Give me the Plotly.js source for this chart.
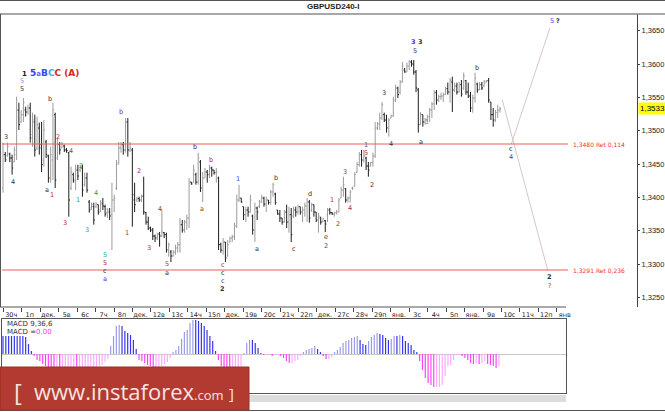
<!DOCTYPE html>
<html>
<head>
<meta charset="utf-8">
<script src="https://cdn.plot.ly/plotly-3.0.1.min.js"></script>
<style>
html, body { margin: 0; padding: 0; background: #ffffff; }
#grafico { width: 665px; height: 412px; }
</style>
</head>
<body>
<div id="grafico"></div>
<script>
"use strict";

// GBPUSD H4 bars (high / low / open / close)
const hi = [1.3482,1.3468,1.3482,1.3467,1.3464,1.3476,1.3551,1.3542,1.3531,1.3549,
 1.3536,1.3539,1.3542,1.3527,1.3524,1.3521,1.3512,1.3513,1.3516,1.3486,
 1.3464,1.3476,1.3542,1.3527,1.3489,1.3483,1.3483,1.3479,1.3474,1.3468,
 1.3446,1.3437,1.3449,1.3449,1.3449,1.3449,1.3437,1.3437,1.3396,1.3392,
 1.3392,1.3393,1.3389,1.3396,1.3399,1.3389,1.3384,1.3384,1.3422,1.3404,
 1.3456,1.3483,1.3483,1.3483,1.3519,1.3519,1.3483,1.3474,1.3422,1.3401,
 1.3401,1.3404,1.3431,1.3378,1.3371,1.3356,1.3354,1.3344,1.3347,1.3348,
 1.3381,1.3348,1.3347,1.3332,1.3321,1.3321,1.3329,1.3333,1.3369,1.3366,
 1.3366,1.3374,1.3429,1.3423,1.3449,1.3437,1.3467,1.3456,1.3438,1.3444,
 1.3441,1.3449,1.3446,1.3441,1.3444,1.3431,1.3332,1.3339,1.3333,1.3336,
 1.3341,1.3344,1.3362,1.3404,1.3419,1.3399,1.3386,1.3386,1.3386,1.3404,
 1.3374,1.3392,1.3386,1.3396,1.3404,1.3401,1.3401,1.3396,1.3411,1.3422,
 1.3407,1.3381,1.3381,1.3369,1.3381,1.3389,1.3386,1.3384,1.3386,1.3386,
 1.3389,1.3386,1.3386,1.3392,1.3399,1.3396,1.3392,1.3389,1.3378,1.3377,
 1.3371,1.3369,1.3366,1.3384,1.3384,1.3378,1.3378,1.3381,1.3399,1.3416,
 1.3431,1.3414,1.3401,1.3411,1.3416,1.3438,1.3453,1.3468,1.3471,1.3471,
 1.3461,1.3453,1.3453,1.3467,1.3513,1.3513,1.3527,1.3543,1.3527,1.3524,
 1.3519,1.3524,1.3551,1.3569,1.3566,1.3576,1.3603,1.3594,1.3602,1.3606,
 1.3606,1.3606,1.3591,1.3564,1.3528,1.3524,1.3519,1.3524,1.3534,1.3543,
 1.3561,1.3561,1.3554,1.3557,1.3557,1.3566,1.3572,1.3579,1.3581,1.3572,
 1.3572,1.3573,1.3576,1.3587,1.3576,1.3572,1.3558,1.3554,1.3587,1.3572,
 1.3573,1.3573,1.3576,1.3576,1.3579,1.3543,1.3534,1.3531,1.3539,1.3536];

const lo = [1.3407,1.3453,1.3461,1.3453,1.3434,1.3453,1.3456,1.3501,1.3512,1.3513,
 1.3521,1.3524,1.3482,1.3476,1.3461,1.3471,1.3464,1.3438,1.3446,1.3459,
 1.3422,1.3422,1.3426,1.3414,1.3456,1.3464,1.3474,1.3468,1.3467,1.3371,
 1.3411,1.3422,1.3411,1.3426,1.3438,1.3401,1.3416,1.3407,1.3377,1.3381,
 1.3359,1.3384,1.3374,1.3378,1.3381,1.3371,1.3369,1.3366,1.3321,1.3378,
 1.3411,1.3449,1.3467,1.3464,1.3467,1.3461,1.3468,1.3356,1.3378,1.3393,
 1.3393,1.3393,1.3374,1.3359,1.3351,1.3348,1.3336,1.3333,1.3336,1.3326,
 1.3341,1.3339,1.3317,1.3311,1.3303,1.3311,1.3314,1.3317,1.3317,1.3347,
 1.3347,1.3351,1.3354,1.3419,1.3422,1.3419,1.3419,1.3408,1.3393,1.3429,
 1.3422,1.3429,1.3431,1.3434,1.3422,1.3321,1.3317,1.3314,1.3303,1.3311,
 1.3333,1.3333,1.3336,1.3354,1.3393,1.3392,1.3366,1.3363,1.3371,1.3377,
 1.3344,1.3333,1.3366,1.3384,1.3392,1.3386,1.3378,1.3389,1.3389,1.3401,
 1.3389,1.3374,1.3363,1.3359,1.3362,1.3354,1.3347,1.3333,1.3369,1.3371,
 1.3374,1.3374,1.3363,1.3371,1.3363,1.3362,1.3378,1.3371,1.3363,1.3347,
 1.3359,1.3363,1.3348,1.3363,1.3374,1.3374,1.3371,1.3374,1.3378,1.3399,
 1.3401,1.3392,1.3392,1.3392,1.3411,1.3416,1.3437,1.3446,1.3446,1.3452,
 1.3441,1.3431,1.3446,1.3446,1.3459,1.3501,1.3501,1.3516,1.3513,1.3497,
 1.3491,1.3519,1.3521,1.3543,1.3549,1.3554,1.3572,1.3587,1.3588,1.3591,
 1.3596,1.3584,1.3558,1.3497,1.3509,1.3506,1.3509,1.3513,1.3513,1.3519,
 1.3531,1.3539,1.3543,1.3546,1.3543,1.3554,1.3554,1.3542,1.3528,1.3558,
 1.3554,1.3557,1.3551,1.3561,1.3554,1.3549,1.3528,1.3527,1.3542,1.3557,
 1.3561,1.3561,1.3566,1.3572,1.3542,1.3516,1.3506,1.3513,1.3519,1.3527];

const op = [1.3414,1.3464,1.3462,1.3465,1.3459,1.3453,1.3464,1.3531,1.3513,1.3524,
 1.3531,1.3528,1.3534,1.3494,1.3513,1.3474,1.3504,1.3479,1.3456,1.3483,
 1.3462,1.3429,1.3456,1.3524,1.3459,1.3479,1.3474,1.3477,1.3471,1.3467,
 1.3414,1.3434,1.3423,1.3441,1.3441,1.3444,1.3419,1.3429,1.3393,1.3384,
 1.3386,1.3386,1.3389,1.3381,1.3390,1.3386,1.3377,1.3378,1.3374,1.3396,
 1.3414,1.3452,1.3474,1.3479,1.3471,1.3513,1.3471,1.3471,1.3396,1.3396,
 1.3398,1.3396,1.3402,1.3377,1.3363,1.3354,1.3351,1.3342,1.3339,1.3345,
 1.3342,1.3347,1.3344,1.3321,1.3318,1.3312,1.3318,1.3324,1.3329,1.3359,
 1.3351,1.3363,1.3369,1.3423,1.3422,1.3434,1.3423,1.3453,1.3414,1.3429,
 1.3438,1.3434,1.3444,1.3441,1.3437,1.3429,1.3329,1.3321,1.3333,1.3312,
 1.3333,1.3339,1.3341,1.3357,1.3396,1.3399,1.3386,1.3374,1.3381,1.3378,
 1.3372,1.3351,1.3384,1.3386,1.3393,1.3399,1.3390,1.3396,1.3392,1.3408,
 1.3405,1.3381,1.3375,1.3369,1.3363,1.3378,1.3363,1.3374,1.3372,1.3381,
 1.3378,1.3386,1.3378,1.3381,1.3387,1.3393,1.3381,1.3389,1.3378,1.3366,
 1.3369,1.3363,1.3365,1.3374,1.3381,1.3377,1.3375,1.3377,1.3378,1.3399,
 1.3411,1.3413,1.3396,1.3399,1.3414,1.3417,1.3438,1.3449,1.3464,1.3456,
 1.3459,1.3447,1.3447,1.3452,1.3462,1.3504,1.3510,1.3519,1.3524,1.3516,
 1.3504,1.3519,1.3522,1.3546,1.3564,1.3558,1.3573,1.3591,1.3588,1.3597,
 1.3603,1.3600,1.3588,1.3561,1.3509,1.3524,1.3513,1.3516,1.3521,1.3531,
 1.3540,1.3557,1.3546,1.3551,1.3552,1.3554,1.3563,1.3558,1.3573,1.3561,
 1.3567,1.3558,1.3569,1.3564,1.3575,1.3558,1.3552,1.3534,1.3549,1.3570,
 1.3561,1.3569,1.3567,1.3573,1.3575,1.3543,1.3524,1.3516,1.3527,1.3531];

const cl = [1.3464,1.3456,1.3476,1.3459,1.3444,1.3471,1.3531,1.3509,1.3524,1.3542,
 1.3528,1.3534,1.3489,1.3516,1.3471,1.3509,1.3474,1.3449,1.3501,1.3464,
 1.3429,1.3464,1.3531,1.3426,1.3479,1.3471,1.3480,1.3471,1.3470,1.3396,
 1.3438,1.3426,1.3441,1.3432,1.3444,1.3411,1.3429,1.3411,1.3381,1.3389,
 1.3366,1.3390,1.3378,1.3392,1.3387,1.3375,1.3381,1.3372,1.3396,1.3399,
 1.3449,1.3474,1.3479,1.3471,1.3513,1.3471,1.3474,1.3404,1.3389,1.3398,
 1.3396,1.3401,1.3378,1.3363,1.3354,1.3351,1.3342,1.3339,1.3345,1.3342,
 1.3348,1.3344,1.3321,1.3329,1.3312,1.3318,1.3324,1.3329,1.3359,1.3351,
 1.3363,1.3369,1.3423,1.3420,1.3441,1.3423,1.3459,1.3414,1.3429,1.3438,
 1.3434,1.3444,1.3441,1.3437,1.3438,1.3329,1.3321,1.3333,1.3309,1.3329,
 1.3339,1.3341,1.3357,1.3396,1.3399,1.3393,1.3374,1.3381,1.3378,1.3396,
 1.3351,1.3384,1.3378,1.3393,1.3399,1.3390,1.3396,1.3392,1.3408,1.3419,
 1.3392,1.3375,1.3369,1.3363,1.3378,1.3363,1.3374,1.3344,1.3381,1.3378,
 1.3386,1.3378,1.3381,1.3387,1.3393,1.3369,1.3389,1.3378,1.3366,1.3372,
 1.3363,1.3368,1.3360,1.3381,1.3377,1.3375,1.3377,1.3378,1.3396,1.3411,
 1.3419,1.3396,1.3399,1.3408,1.3414,1.3434,1.3449,1.3464,1.3456,1.3462,
 1.3447,1.3441,1.3452,1.3462,1.3504,1.3510,1.3519,1.3539,1.3516,1.3504,
 1.3516,1.3522,1.3546,1.3564,1.3554,1.3573,1.3597,1.3588,1.3597,1.3603,
 1.3600,1.3588,1.3564,1.3509,1.3524,1.3513,1.3516,1.3521,1.3531,1.3540,
 1.3557,1.3546,1.3551,1.3552,1.3554,1.3563,1.3558,1.3576,1.3561,1.3567,
 1.3558,1.3569,1.3555,1.3582,1.3558,1.3552,1.3534,1.3549,1.3579,1.3561,
 1.3569,1.3564,1.3573,1.3575,1.3546,1.3524,1.3516,1.3527,1.3531,1.3533];

// MACD(9,36,6) histogram
const macd = [0.0009,0.0009,0.0009,0.0009,0.0009,0.0009,0.0009,0.0009,0.00085,0.0005,0.00015,
 -0.0001,-0.0003,-0.00035,
 -0.0005,-0.0006,-0.00065,-0.0007,-0.00075,-0.00075,-0.0008,-0.0008,-0.0008,-0.0008,-0.00075,
 -0.00075,-0.0008,-0.0008,-0.00075,-0.00075,-0.0007,-0.0007,-0.00065,-0.00065,-0.0006,-0.00055,
 -0.0004,-0.00025,
 0.0004,0.0009,0.0014,0.00145,0.0014,0.00115,0.00105,0.00095,0.0007,0.00025,
 -0.0003,-0.00035,-0.00045,-0.00055,-0.0006,-0.00065,-0.00065,-0.00065,-0.0006,-0.0005,-0.0004,-0.0002,
 0.0001,0.0002,0.0004,0.00075,0.0011,0.0012,0.00155,0.0017,0.0017,0.00165,0.00155,0.0014,0.0012,0.0009,0.00065,0.00015,
 -0.0003,-0.0006,-0.00075,-0.00085,-0.0009,-0.00085,-0.0008,-0.0007,-0.0006,
 0.00005,0.00055,0.0007,0.0007,0.00055,0.0003,0.00005,
 -0.00005,-0.00005,-0.00005,-0.0001,-0.00005,-0.00005,
 -0.0001,-0.0002,-0.00035,-0.00045,-0.00045,-0.00035,-0.0003,-0.0001,
 0.0001,0.0002,0.00025,0.0003,0.0004,0.00025,0.0001,
 -0.0001,-0.00025,-0.00025,-0.00015,
 0.0001,0.0002,0.00035,0.00055,0.00065,0.0007,0.0008,0.00085,0.0009,0.0007,0.0005,0.00045,0.00065,0.00085,0.00095,
 0.00105,0.001,0.00095,0.0008,0.0007,0.00075,0.0009,0.0009,0.00095,0.0009,0.00065,0.00055,0.00045,0.0002,0.0001,
 -0.00035,-0.0008,-0.0012,-0.00145,-0.00155,-0.00165,-0.00165,-0.00165,-0.00155,-0.0011,-0.0006,-0.00055,-0.0003,-0.00005,
 -0.00005,-0.0001,-0.0002,-0.0003,-0.00045,-0.0005,-0.00045,-0.0005,-0.00045,-0.00035,-0.0005,-0.00055,-0.0006,-0.0007,-0.0006];

// Etiquetas del eje de fechas
const dayLabels = ['30ч','1п','дек.','5в','6с','7ч','8п','дек.','12в','13с','14ч','15п','дек.',
 '19в','20с','21ч','22п','дек.','27с','28ч','29п','янв.','3с','4ч','5п','янв.','9в','10с','11ч','12п','янв'];
const yTicks = [1.3250,1.3300,1.3350,1.3400,1.3450,1.3500,1.3550,1.3600,1.3650];

// Niveles de retroceso
const retLevels = [1.3480, 1.3291];
const retNames = ['Ret 0,114', 'Ret 0,236'];

// Proyección de ondas (índice de barra, precio)
const projA_x = [220, 240];
const projA_y = [1.3546, 1.3291];
const projB_x = [224, 241];
const projB_y = [1.3480, 1.3654];

// Colores de las etiquetas de onda
const K = '#333333', R = '#a8322d', B = '#3a3af0', T = '#2aa0a0', G = '#2e9e2e', L = '#8c8cf0', M = '#ff33ff', S = '#4a4a80';

const waveX = [8.4,8.4,20.7,1.3,52.0,24.2,30.0,84.6,91.7,4.4,19.4,21.6,34.4,33.0,27.3,37.0,41.0,
 44.9,44.9,44.9,44.9,54.6,59.9,64.3,69.2,72.3,72.3,87.7,96.9,96.9,96.9,96.9,
 103.6,111.9,120.3,128.2,135.3,142.3,142.3,145.0,147.6,150.7,152.9,160.0,160.0,162.6,
 167.9,171.0,181.1,183.9,181.5,184.2,186.8,208.9,223.8,223.8,241.9,244.6,240.6,240.6];
const waveY = [1.3575,1.3562,1.3547,1.3491,1.3528,1.3491,1.3469,1.3476,1.3456,1.3423,1.3411,1.3404,1.3447,1.3396,1.3362,1.3351,1.3407,
 1.3314,1.3302,1.3290,1.3278,1.3347,1.3440,1.3324,1.3383,1.3300,1.3286,1.3383,1.3298,1.3286,1.3274,1.3262,
 1.3428,1.3323,1.3429,1.3323,1.3405,1.3340,1.3327,1.3396,1.3360,1.3438,1.3384,1.3479,1.3466,1.3419,
 1.3557,1.3480,1.3633,1.3633,1.3619,1.3483,1.3513,1.3594,1.3473,1.3460,1.3664,1.3664,1.3280,1.3267];
const waveText = ['5','5','b','3','b','2','4','b','b','4','a','1','2','1','3','3','4',
 '5','5','c','a','1','2','3','4','5','a','a','c','c','c','<b>2</b>',
 '1','a','b','c','d','e','2','1','2','3','4','1','5','2',
 '3','4','<b>3</b>','<b>3</b>','5','a','1','b','c','4','5','<b>?</b>','<b>2</b>','?'];
const waveColor = [L,K,K,K,B,R,R,K,R,K,K,R,G,T,R,T,G,
 T,R,K,B,R,R,R,R,R,K,R,R,K,B,K,
 B,K,K,K,K,K,B,R,R,R,R,S,R,K,
 K,K,B,K,K,K,M,K,K,B,B,K,K,'#ee2222'];

// Conversión píxel -> coordenadas de papel (margen izq. 2px, ancho de trazado 635px)
const px = v => (v - 2) / 635;
const py = v => 1 - v / 412;
const fmt = v => v.toFixed(4).replace('.', ',');

const barIdx = hi.map((_, i) => i);
const macdIdx = macd.map((_, i) => i);
const dayPos = dayLabels.map((_, d) => 0.132 + 8.13 * d);

const macdColors = macd.map((v, i) => {
    const prev = i > 0 ? macd[i - 1] : v;
    if (v >= 0) return v > prev ? '#9a9aea' : '#3434ee';
    return v < prev ? '#ff44ff' : '#ffaaff';
});

const traceBarras = {
    type: 'ohlc',
    x: barIdx, open: op, high: hi, low: lo, close: cl,
    xaxis: 'x', yaxis: 'y',
    increasing: { line: { color: '#9c9c9c', width: 1 } },
    decreasing: { line: { color: '#1e1e1e', width: 1 } },
    tickwidth: 0.5,
    hoverinfo: 'skip',
    showlegend: false
};

const traceProyA = {
    type: 'scatter', mode: 'lines', x: projA_x, y: projA_y,
    line: { color: '#d8c6c6', width: 1 }, hoverinfo: 'skip', showlegend: false
};
const traceProyB = {
    type: 'scatter', mode: 'lines', x: projB_x, y: projB_y,
    line: { color: '#d8c6c6', width: 1 }, hoverinfo: 'skip', showlegend: false
};

const traceMacd = {
    type: 'bar', x: macdIdx, y: macd, xaxis: 'x2', yaxis: 'y2',
    marker: { color: macdColors, line: { width: 0 } },
    width: 0.42, hoverinfo: 'skip', showlegend: false
};

const anotaciones = [];

// Etiquetas de ondas
waveX.forEach((x, i) => {
    anotaciones.push({
        x: x, y: waveY[i], xref: 'x', yref: 'y', text: waveText[i], showarrow: false,
        xanchor: 'center', yanchor: 'middle',
        font: { family: 'DejaVu Sans', size: 6.5, color: waveColor[i] }
    });
});

// Leyenda de grados de onda
anotaciones.push({
    x: 7.5, y: 1.3586, xref: 'x', yref: 'y', xanchor: 'left', yanchor: 'middle', showarrow: false,
    text: '<b><span style="color:#222;font-size:7px">1</span> <span style="color:#3a3af0">5</span>' +
          '<span style="color:#6a6af0;font-size:7px">a</span><span style="color:#2a4af0">B</span>' +
          '<span style="color:#33aaee">C</span><span style="color:#dd2222">C</span> ' +
          '<span style="color:#dd2222">(A)</span></b>',
    font: { family: 'DejaVu Sans', size: 9 }
});

// Etiquetas de niveles de retroceso
retLevels.forEach((lvl, i) => {
    anotaciones.push({
        x: 250.5, y: lvl, xref: 'x', yref: 'y', xanchor: 'left', yanchor: 'middle', showarrow: false,
        text: fmt(lvl) + ' ' + retNames[i],
        font: { family: 'DejaVu Sans', size: 6, color: '#ee3333' }
    });
});

// Precio actual
anotaciones.push({
    x: 1, y: cl[cl.length - 1], xref: 'paper', yref: 'y', xanchor: 'left', yanchor: 'middle',
    xshift: 1, showarrow: false, text: fmt(cl[cl.length - 1]),
    bgcolor: '#ffff00', borderpad: 1,
    font: { family: 'Liberation Sans', size: 8, color: '#000' }
});

// Título
anotaciones.push({
    x: px(333), y: py(7), xref: 'paper', yref: 'paper', xanchor: 'center', yanchor: 'middle',
    showarrow: false, text: '<b>GBPUSD240-I</b>',
    font: { family: 'Liberation Sans', size: 8, color: '#222' }
});

// Rótulos del MACD
anotaciones.push({
    x: px(5), y: py(324), xref: 'paper', yref: 'paper', xanchor: 'left', yanchor: 'middle',
    showarrow: false, text: 'MACD 9,36,6',
    font: { family: 'DejaVu Sans', size: 7, color: '#333' }
});
anotaciones.push({
    x: px(5), y: py(332), xref: 'paper', yref: 'paper', xanchor: 'left', yanchor: 'middle',
    showarrow: false, text: 'MACD =<span style="color:#ff33ff">0,00</span>',
    font: { family: 'DejaVu Sans', size: 7, color: '#333' }
});

// Banner
anotaciones.push({
    x: px(18), y: py(391), xref: 'paper', yref: 'paper', xanchor: 'center', yanchor: 'middle',
    showarrow: false, text: '[', font: { family: 'Open Sans', size: 24, color: '#f6e4e1' }
});
anotaciones.push({
    x: px(32), y: py(391), xref: 'paper', yref: 'paper', xanchor: 'left', yanchor: 'middle',
    showarrow: false, text: 'www.instaforex<span style="font-size:13px">.com</span>',
    font: { family: 'Open Sans', size: 22, color: '#f6e4e1' }
});
anotaciones.push({
    x: px(231), y: py(393), xref: 'paper', yref: 'paper', xanchor: 'center', yanchor: 'middle',
    showarrow: false, text: ']', font: { family: 'Open Sans', size: 15, color: '#f6e4e1' }
});

const formas = [];
retLevels.forEach(lvl => {
    formas.push({ type: 'line', xref: 'x', yref: 'y', x0: -2, x1: 249, y0: lvl, y1: lvl,
        line: { color: '#f05a5a', width: 1 } });
});
// Marco
formas.push({ type: 'line', xref: 'paper', yref: 'paper', x0: px(0), x1: px(665), y0: py(0.5), y1: py(0.5),
    line: { color: '#555', width: 1 } });
formas.push({ type: 'line', xref: 'paper', yref: 'paper', x0: px(0), x1: px(665), y0: py(14), y1: py(14),
    line: { color: '#8a8a8a', width: 1.5 } });
formas.push({ type: 'line', xref: 'paper', yref: 'paper', x0: px(0.5), x1: px(0.5), y0: py(14), y1: py(307),
    line: { color: '#555', width: 1 } });
formas.push({ type: 'line', xref: 'paper', yref: 'paper', x0: px(0), x1: px(566), y0: py(307), y1: py(307),
    line: { color: '#555', width: 1 } });
formas.push({ type: 'rect', xref: 'paper', yref: 'paper', x0: px(0), x1: px(566), y0: py(402), y1: py(395),
    fillcolor: '#dcdcdc', line: { width: 0 } });
formas.push({ type: 'line', xref: 'paper', yref: 'paper', x0: px(0), x1: px(665), y0: py(410.5), y1: py(410.5),
    line: { color: '#555', width: 1 } });
formas.push({ type: 'rect', xref: 'paper', yref: 'paper', x0: px(0), x1: px(249), y0: py(410), y1: py(367),
    fillcolor: '#b33a30', line: { color: '#9c2f27', width: 1 }, layer: 'above' });

const layout = {
    width: 665, height: 412,
    margin: { l: 2, r: 28, t: 0, b: 0 },
    paper_bgcolor: '#ffffff',
    plot_bgcolor: '#ffffff',
    showlegend: false,
    xaxis: {
        domain: [0, 1], range: [-0.44, 279.37], anchor: 'y',
        rangeslider: { visible: false },
        showgrid: false, zeroline: false, showline: false,
        tickmode: 'array', tickvals: dayPos, ticktext: dayLabels,
        ticks: 'outside', ticklen: 4, tickcolor: '#444',
        ticklabelshift: 8, ticklabelstandoff: -3,
        tickfont: { family: 'DejaVu Sans', size: 6.5, color: '#222' }
    },
    yaxis: {
        domain: [py(307), py(14)], range: [1.32355, 1.3675], anchor: 'x', side: 'right',
        showgrid: false, zeroline: false, showline: true, linecolor: '#444', linewidth: 1,
        tickmode: 'array', tickvals: yTicks, ticktext: yTicks.map(fmt),
        ticks: 'outside', ticklen: 2, tickcolor: '#444',
        tickfont: { family: 'Liberation Sans', size: 7.5, color: '#222' }
    },
    xaxis2: {
        domain: [0, px(566)], range: [-0.353, 198.66], anchor: 'y2',
        showgrid: false, zeroline: false, showticklabels: false, ticks: '',
        showline: true, mirror: true, linecolor: '#555', linewidth: 1
    },
    yaxis2: {
        domain: [py(393), py(319)], range: [-0.00195, 0.00175], anchor: 'x2',
        showgrid: false, showticklabels: false, ticks: '',
        zeroline: true, zerolinecolor: '#c8c8c8', zerolinewidth: 1,
        showline: true, mirror: true, linecolor: '#555', linewidth: 1
    },
    shapes: formas,
    annotations: anotaciones
};

const config = { staticPlot: true, displayModeBar: false };

Plotly.newPlot('grafico', [traceBarras, traceProyA, traceProyB, traceMacd], layout, config);
</script>
</body>
</html>
